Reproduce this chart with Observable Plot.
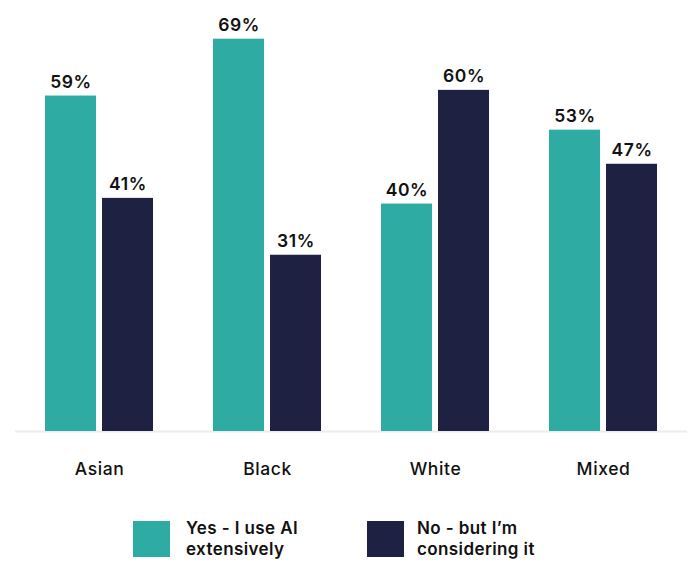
<!DOCTYPE html>
<html>
<head>
<meta charset="utf-8">
<script src="https://cdn.jsdelivr.net/npm/d3@7"></script>
<script src="https://cdn.jsdelivr.net/npm/@observablehq/plot@0.6"></script>
<style>
  body { margin: 0; background: #fff; font-family: Inter, sans-serif; }
  #wrap { position: relative; width: 689px; height: 563px; }
  #legend { position: absolute; left: 0; top: 495px; width: 689px; height: 68px; }
  .sw { position: absolute; width: 37px; height: 36px; top: 26px; }
  .lt { position: absolute; top: 22.6px; font-size: 17px; font-weight: 600; line-height: 21px; color: #111; white-space: nowrap; letter-spacing: 0.4px; }
</style>
</head>
<body>
<div id="wrap"><div id="chart"></div>
<div id="legend">
  <div class="sw" style="left:133px;background:#2eaca3"></div>
  <div class="lt" style="left:186px">Yes - I use AI<br>extensively</div>
  <div class="sw" style="left:367px;background:#1f2142"></div>
  <div class="lt" style="left:417px">No - but I’m<br>considering it</div>
</div></div>
<script>
const groups = ["Asian", "Black", "White", "Mixed"];
const series = ["Yes - I use AI extensively", "No - but I’m considering it"];
const yesValues = [59, 69, 40, 53];
const noValues = [41, 31, 60, 47];
const colors = ["#2eaca3", "#1f2142"];

const data = [];
groups.forEach((g, i) => {
  data.push({group: g, series: series[0], value: yesValues[i]});
  data.push({group: g, series: series[1], value: noValues[i]});
});

const chart = Plot.plot({
  width: 689,
  height: 495,
  marginLeft: 15,
  marginRight: 2,
  marginTop: 33,
  marginBottom: 64,
  style: {fontFamily: "Inter, sans-serif", fontSize: "17.5px", color: "#111", letterSpacing: "0.6px"},
  fx: {domain: groups, paddingInner: 0, paddingOuter: 0, label: null},
  x: {domain: series, paddingInner: 0.103, paddingOuter: 0.5, axis: null},
  y: {domain: [0, 70], axis: null},
  color: {domain: series, range: colors},
  marks: [
    Plot.ruleY([0], {stroke: "#ececec", strokeWidth: 2}),
    Plot.barY(data, {fx: "group", x: "series", y: "value", fill: "series"}),
    Plot.text(data, {fx: "group", x: "series", y: "value", text: d => d.value + "%", lineAnchor: "bottom", dy: -8, fontSize: 17.5, fontWeight: 600, fill: "#111"}),
    Plot.axisFx({anchor: "bottom", tickSize: 0, tickPadding: 31.5, fontSize: 17.5, fontWeight: 500, label: null, fill: "#111"})
  ]
});
document.getElementById("chart").appendChild(chart);
</script>
</body>
</html>
